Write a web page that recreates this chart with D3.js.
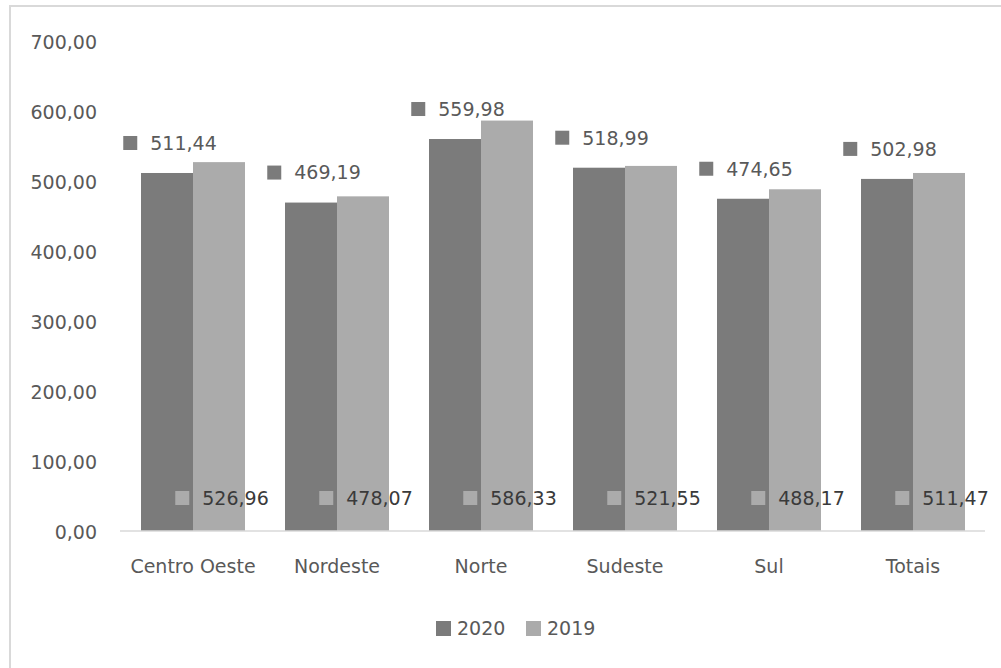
<!DOCTYPE html>
<html>
<head>
<meta charset="utf-8">
<script src="https://cdn.jsdelivr.net/npm/d3@7"></script>
<style>
  body { margin: 0; background: #fff; }
  svg text { font-family: 'DejaVu Sans', sans-serif; }
</style>
</head>
<body>
<svg id="chart" width="1001" height="668"></svg>
<script>
const regions = ['Centro Oeste', 'Nordeste', 'Norte', 'Sudeste', 'Sul', 'Totais'];
const values2020 = [511.44, 469.19, 559.98, 518.99, 474.65, 502.98];
const values2019 = [526.96, 478.07, 586.33, 521.55, 488.17, 511.47];
const seriesNames = ['2020', '2019'];
const yTicks = [0, 100, 200, 300, 400, 500, 600, 700];

const colors = { '2020': '#7b7b7b', '2019': '#ababab' };
const fmt = v => d3.format('.2f')(v).replace('.', ',');

const svg = d3.select('#chart');

// outer frame (only top and left edges visible in the picture)
svg.append('rect')
  .attr('x', 10).attr('y', 6)
  .attr('width', 1100).attr('height', 800)
  .attr('fill', 'none')
  .attr('stroke', '#d9d9d9')
  .attr('stroke-width', 2);

const x0 = d3.scaleBand().domain(regions).range([121, 985]);
const x1 = d3.scaleBand().domain(seriesNames).range([20, x0.bandwidth() - 20]);
const y = d3.scaleLinear().domain([0, 700]).range([531, 41]);

// y tick labels
const yAxis = svg.append('g')
  .attr('transform', 'translate(107,0)')
  .call(d3.axisLeft(y).tickValues(yTicks).tickSize(0).tickPadding(10).tickFormat(fmt));
yAxis.select('.domain').remove();
yAxis.selectAll('text')
  .attr('font-size', '19px')
  .attr('fill', '#595959')
  .attr('dy', '0.4em');

const rows = regions.map((r, i) => ({ region: r, '2020': values2020[i], '2019': values2019[i] }));

// bars
const groups = svg.append('g').selectAll('g')
  .data(rows)
  .enter().append('g')
  .attr('transform', d => `translate(${x0(d.region)},0)`);

groups.selectAll('rect')
  .data(d => seriesNames.map(s => ({ key: s, value: d[s] })))
  .enter().append('rect')
  .attr('x', d => x1(d.key))
  .attr('y', d => y(d.value))
  .attr('width', x1.bandwidth())
  .attr('height', d => y(0) - y(d.value))
  .attr('fill', d => colors[d.key]);

// x axis line + category labels
const xAxis = svg.append('g')
  .attr('transform', `translate(0,${y(0)})`)
  .call(d3.axisBottom(x0).tickSize(0).tickPadding(29));
xAxis.select('.domain').attr('stroke', '#d9d9d9').attr('stroke-width', 1.5)
  .attr('d', 'M120,0H985');
xAxis.selectAll('text')
  .attr('font-size', '19px')
  .attr('fill', '#595959');

// data labels with legend key
function dataLabel(g, cx, cy, key, value, textColor) {
  const lab = g.append('g');
  const t = lab.append('text')
    .attr('x', 0).attr('y', cy)
    .attr('dy', '0.36em')
    .attr('font-size', '19px')
    .attr('fill', textColor)
    .text(fmt(value));
  const tw = t.node().getComputedTextLength();
  const sq = 14, gap = 13;
  const total = sq + gap + tw;
  const left = cx - total / 2;
  lab.append('rect')
    .attr('x', left).attr('y', cy - sq / 2)
    .attr('width', sq).attr('height', sq)
    .attr('fill', colors[key]);
  t.attr('x', left + sq + gap);
}

const labels = svg.append('g');
rows.forEach(d => {
  const base = x0(d.region);
  dataLabel(labels, base + x1('2020') + x1.bandwidth() / 2 + 3, y(d['2020']) - 30, '2020', d['2020'], '#595959');
  dataLabel(labels, base + x1('2019') + x1.bandwidth() / 2 + 3, y(0) - 33, '2019', d['2019'], '#3a3a3a');
});

// legend
const legend = svg.append('g');
const legendX = [436, 526];
seriesNames.forEach((s, i) => {
  legend.append('rect')
    .attr('x', legendX[i]).attr('y', 621)
    .attr('width', 15).attr('height', 15)
    .attr('fill', colors[s]);
  legend.append('text')
    .attr('x', legendX[i] + 21).attr('y', 628)
    .attr('dy', '0.36em')
    .attr('font-size', '19px')
    .attr('fill', '#595959')
    .text(s);
});
</script>
</body>
</html>
